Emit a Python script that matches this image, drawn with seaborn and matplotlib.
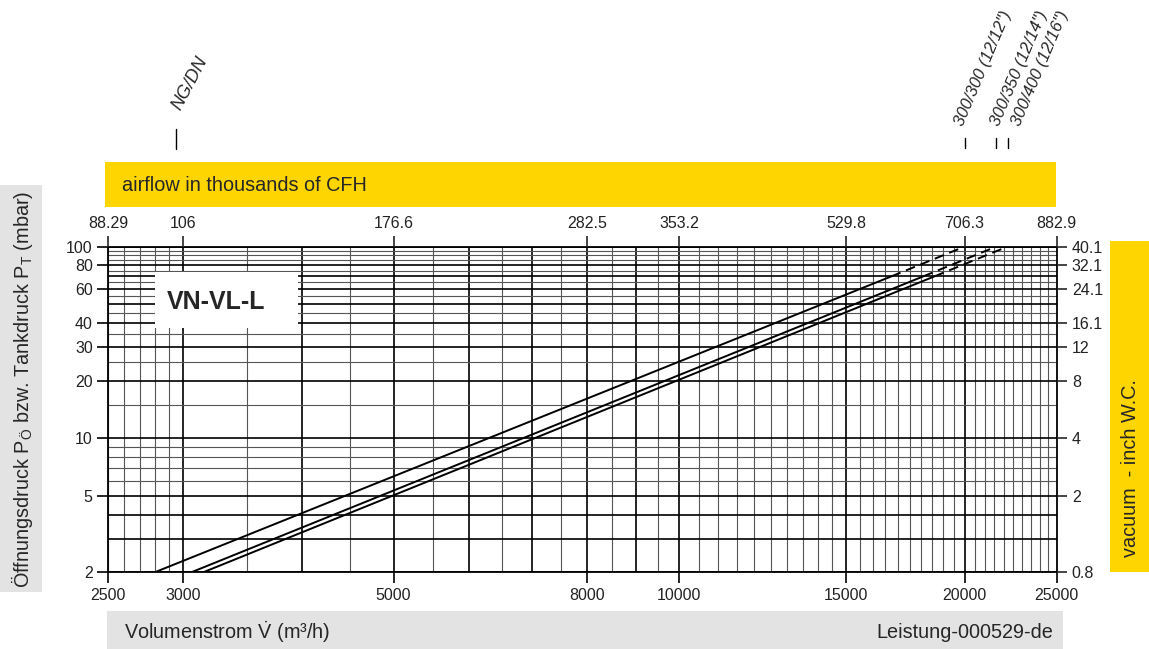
import pandas as pd
import seaborn as sns
import matplotlib.pyplot as plt
from matplotlib.patches import Rectangle
from matplotlib.lines import Line2D
from matplotlib.ticker import NullLocator
from matplotlib.transforms import blended_transform_factory

# values: flow (m3/h) and pressure (mbar) per curve
sizes = ['300/300 (12/12")', '300/350 (12/14")', '300/400 (12/16")']
flow_start = [2800, 3060, 3150]
flow_solid_end = [16750, 18100, 18600]
flow_end = [20000, 21600, 22200]
p_start = [2, 2, 2]
p_solid_end = [70, 70, 70]
p_end = [100, 100, 100]

x_ticks = [2500, 3000, 5000, 8000, 10000, 15000, 20000, 25000]
cfh_labels = ['88.29', '106', '176.6', '282.5', '353.2', '529.8', '706.3', '882.9']
y_ticks = [2, 5, 10, 20, 30, 40, 60, 80, 100]
inch_labels = ['0.8', '2', '4', '8', '12', '16.1', '24.1', '32.1', '40.1']

# chart paper grid
x_grid = list(range(2500, 3000, 100)) + list(range(3000, 25001, 500))
x_grid_major = [3000, 4000, 5000, 6000, 7000, 8000, 9000, 10000, 15000, 20000]
y_grid = [2, 3, 4, 5, 6, 7, 8, 9, 10, 15, 20, 25, 30, 35] + list(range(40, 101, 5))
y_grid_major = [2, 3, 4, 5, 10, 20, 30, 40, 50, 60, 70, 80, 100]

YELLOW = '#FFD500'
GRAY = '#E3E3E3'
W, H = 1149, 649

rows = []
for i, s in enumerate(sizes):
    rows.append((s + 'a', 'solid', flow_start[i], p_start[i]))
    rows.append((s + 'a', 'solid', flow_solid_end[i], p_solid_end[i]))
    rows.append((s + 'b', 'dashed', flow_solid_end[i], p_solid_end[i]))
    rows.append((s + 'b', 'dashed', flow_end[i], p_end[i]))
df = pd.DataFrame(rows, columns=['unit', 'part', 'flow', 'p'])

sns.set_style('white')
plt.rcParams['font.family'] = ['Liberation Sans', 'DejaVu Sans']
plt.rcParams['mathtext.fontset'] = 'custom'
plt.rcParams['mathtext.rm'] = 'Liberation Sans'
plt.rcParams['mathtext.it'] = 'Liberation Sans:italic'


def fx(x):
    return x / W


def fy(y):
    return 1 - y / H


fig = plt.figure(figsize=(W / 100, H / 100), dpi=100)
ax = fig.add_axes([fx(108), fy(572.3), 948.5 / W, 325.7 / H])

for v in x_grid:
    major = v in x_grid_major
    ax.axvline(v, color='black' if major else '#555555', lw=1.2 if major else 0.8, zorder=1)
for v in y_grid:
    major = v in y_grid_major
    ax.axhline(v, color='black' if major else '#555555', lw=1.2 if major else 0.8, zorder=1)

sns.lineplot(data=df, x='flow', y='p', units='unit', style='part', estimator=None,
             dashes={'solid': '', 'dashed': (5, 3)}, color='black', lw=1.4,
             sort=False, legend=False, ax=ax, zorder=4)

ax.set_xscale('log')
ax.set_yscale('log')
ax.set_xlim(2500, 25000)
ax.set_ylim(2, 100)
ax.set_xticks(x_ticks, [str(v) for v in x_ticks])
ax.set_yticks(y_ticks, [str(v) for v in y_ticks])
ax.xaxis.set_minor_locator(NullLocator())
ax.yaxis.set_minor_locator(NullLocator())
ax.set_xlabel('')
ax.set_ylabel('')
ax.tick_params(direction='out', length=8, width=1.2, labelsize=11.5, colors='black',
               labelcolor='#222222', pad=3)
for sp in ax.spines.values():
    sp.set_color('black')
    sp.set_linewidth(1.3)

ax_top = ax.twiny()
ax_top.set_xscale('log')
ax_top.set_xlim(2500, 25000)
ax_top.set_xticks(x_ticks, cfh_labels)
ax_top.xaxis.set_minor_locator(NullLocator())
ax_top.tick_params(direction='out', length=8, width=1.2, labelsize=11.5, labelcolor='#222222', pad=3)

ax_right = ax.twinx()
ax_right.set_yscale('log')
ax_right.set_ylim(2, 100)
ax_right.set_yticks(y_ticks, inch_labels)
ax_right.yaxis.set_minor_locator(NullLocator())
ax_right.tick_params(direction='out', length=7, width=1.2, labelsize=11.5, labelcolor='#222222', pad=4)
for a in (ax_top, ax_right):
    for sp in a.spines.values():
        sp.set_visible(False)

# white type box
ax.add_patch(Rectangle((0.0496, 0.749), 0.1507, 0.174, transform=ax.transAxes,
                       facecolor='white', edgecolor='none', zorder=3))
ax.text(0.114, 0.831, 'VN-VL-L', transform=ax.transAxes, ha='center', va='center',
        fontsize=18, fontweight='bold', zorder=5)

# bands around the chart
bands = [(105, 162, 1056, 207, YELLOW), (1110, 241, W, 572, YELLOW),
         (0, 185, 42, 592, GRAY), (107, 611, 1063, H, GRAY)]
for x0, y0, x1, y1, c in bands:
    fig.add_artist(Rectangle((fx(x0), fy(y1)), (x1 - x0) / W, (y1 - y0) / H,
                             transform=fig.transFigure, facecolor=c, edgecolor='none'))

fig.text(fx(122), fy(185), 'airflow in thousands of CFH', ha='left', va='center', fontsize=14.3)
fig.text(fx(1131), fy(557), 'vacuum  - inch W.C.', rotation=90, ha='center', va='bottom', fontsize=14.3)
fig.text(fx(22), fy(389), r'Öffnungsdruck P$_{\mathregular{Ö}}$ bzw. Tankdruck P$_{\mathregular{T}}$ (mbar)',
         rotation=90, ha='center', va='center', fontsize=14.3)
fig.text(fx(124), fy(632), r'Volumenstrom $\dot{\mathregular{V}}$ (m³/h)', ha='left', va='center', fontsize=14.3)
fig.text(fx(1053), fy(632), 'Leistung-000529-de', ha='right', va='center', fontsize=14.3)

# nominal size markers above the chart
fig.add_artist(Line2D([fx(176), fx(176)], [fy(149), fy(129)], transform=fig.transFigure, color='black', lw=1))
fig.text(fx(184), fy(113), 'NG/DN', rotation=62, rotation_mode='anchor', ha='left', va='bottom',
         fontsize=13, style='italic')
label_x = [966, 1002, 1023]
tr = blended_transform_factory(ax.transData, fig.transFigure)
for q, s, lx in zip(flow_end, sizes, label_x):
    fig.add_artist(Line2D([q, q], [fy(148), fy(138)], transform=tr, color='black', lw=1))
    fig.text(fx(lx), fy(128), s, rotation=67, rotation_mode='anchor', ha='left', va='bottom',
             fontsize=12, style='italic')

fig.savefig('out.png', dpi=100)
